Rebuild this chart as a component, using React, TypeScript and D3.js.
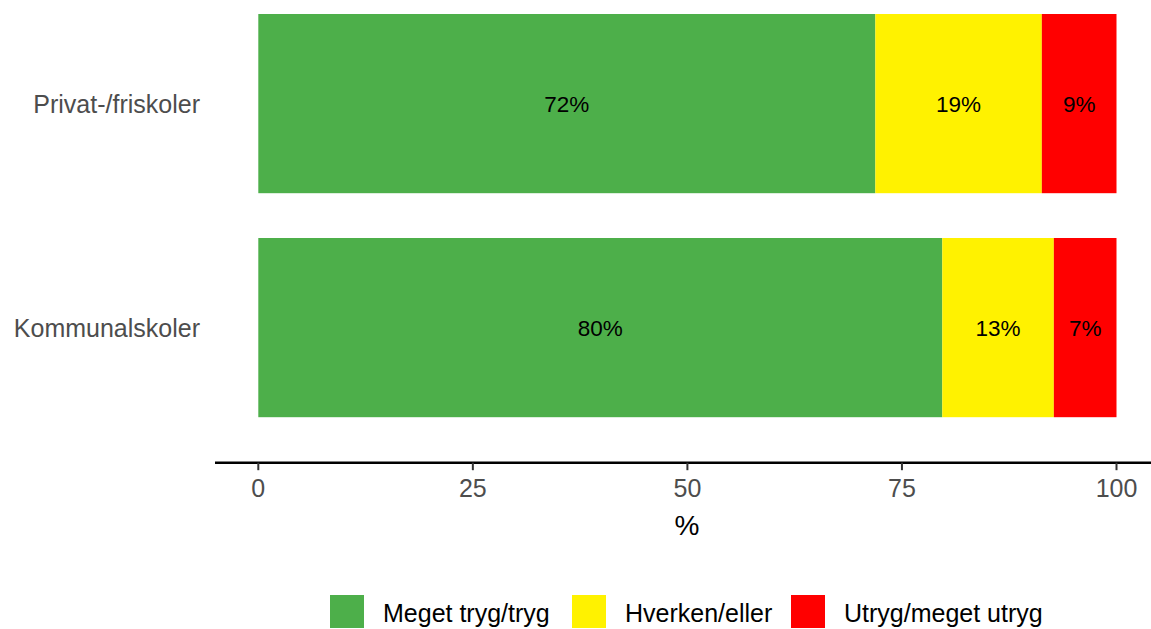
import React from "react";
import * as d3 from "d3";

const categories = ["Privat-/friskoler", "Kommunalskoler"];
const seriesNames = ["Meget tryg/tryg", "Hverken/eller", "Utryg/meget utryg"];
const tryg = [71.9, 79.7];
const hverken = [19.4, 13.0];
const utryg = [8.7, 7.3];
const xTicks = [0, 25, 50, 75, 100];
const colors = ["#4DAF4A", "#FFF200", "#FF0000"];

const W = 1151;
const H = 629;
const FONT = "'Liberation Sans', Arial, Helvetica, sans-serif";

export default function App() {
  const x = d3.scaleLinear().domain([0, 100]).range([258.3, 1116.5]);
  const y = d3
    .scaleBand<string>()
    .domain(categories)
    .range([-8.4, 439.6])
    .paddingInner(0.2)
    .paddingOuter(0.1);

  const rows = categories.map((c, i) => ({ cat: c, tryg: tryg[i], hverken: hverken[i], utryg: utryg[i] }));
  const keys = ["tryg", "hverken", "utryg"];
  const stack = d3.stack<any>().keys(keys)(rows);

  const axisY = 462.7;
  const legendKeysX = [330, 572, 791];

  return (
    <svg
      width={W}
      height={H}
      style={{ position: "absolute", left: 0, top: 0, fontFamily: FONT }}
    >
      <rect width={W} height={H} fill="#fff" />
      {stack.map((layer, li) =>
        layer.map((d, i) => {
          const cat = categories[i];
          const x0 = x(d[0]);
          const x1 = x(d[1]);
          const by = y(cat)!;
          const bh = y.bandwidth();
          return (
            <g key={`${li}-${i}`}>
              <rect x={x0} y={by} width={x1 - x0} height={bh} fill={colors[li]} />
              <text
                x={(x0 + x1) / 2}
                y={by + bh / 2}
                dy="0.36em"
                textAnchor="middle"
                fontSize={22.5}
                fill="#000"
              >
                {Math.round(d[1] - d[0])}%
              </text>
            </g>
          );
        })
      )}
      {categories.map((c) => (
        <text
          key={c}
          x={200}
          y={y(c)! + y.bandwidth() / 2}
          dy="0.36em"
          textAnchor="end"
          fontSize={25}
          fill="#4D4D4D"
        >
          {c}
        </text>
      ))}
      <line x1={215} x2={W} y1={axisY} y2={axisY} stroke="#000" strokeWidth={2.4} />
      {xTicks.map((t) => (
        <g key={t}>
          <line x1={x(t)} x2={x(t)} y1={axisY} y2={axisY + 7.5} stroke="#333" strokeWidth={2} />
          <text x={x(t)} y={497} textAnchor="middle" fontSize={25} fill="#4D4D4D">
            {t}
          </text>
        </g>
      ))}
      <text x={687} y={535} textAnchor="middle" fontSize={28} fill="#000">
        %
      </text>
      {seriesNames.map((s, i) => (
        <g key={s}>
          <rect x={legendKeysX[i]} y={595} width={34} height={33} fill={colors[i]} />
          <text x={legendKeysX[i] + 53} y={621.5} fontSize={25} fill="#000">
            {s}
          </text>
        </g>
      ))}
    </svg>
  );
}
